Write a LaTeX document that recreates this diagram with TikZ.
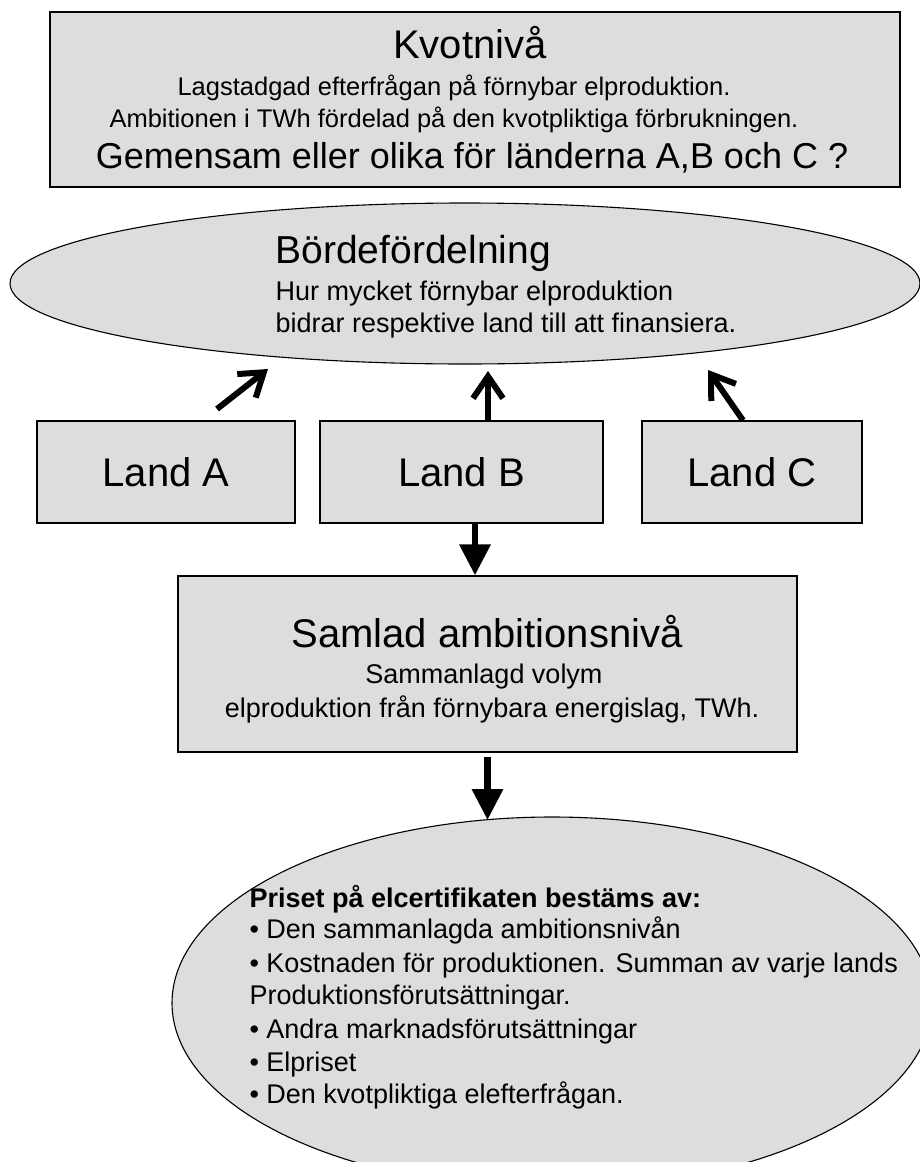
\documentclass[tikz,border=0pt]{standalone}
\usepackage{fontspec}
\setmainfont{Liberation Sans}
\usepackage{tikz}
\usetikzlibrary{shapes.geometric,arrows.meta}
\definecolor{grafyll}{RGB}{221,221,221}
\newcommand{\rubrik}{\fontsize{40}{48}\selectfont}
\newcommand{\brod}{\fontsize{27}{32}\selectfont}

\begin{document}
\begin{tikzpicture}[x=1pt,y=-1pt,
  ruta/.style={draw, line width=1.3pt, fill=grafyll, inner sep=0pt},
  ellips/.style={ellipse, draw, line width=1.1pt, fill=grafyll, inner sep=0pt},
  upp/.style={line width=6pt, -{Straight Barb[length=22pt,width=30pt]}},
  ned/.style={line width=6.5pt, -{Triangle[length=31pt,width=30pt]}}]
\useasboundingbox (0,0) rectangle (919,1162);
% kvotniva
\node[ruta, minimum width=850pt, minimum height=175pt] (kvot) at (475,99.5) {};
\node[anchor=base, font=\rubrik] (kvotrubrik) at (470,58) {Kvotnivå};
\node[anchor=base, font=\fontsize{25.5}{31}\selectfont] (kvotrad1) at (454,95) {Lagstadgad efterfrågan på förnybar elproduktion.};
\node[anchor=base, font=\fontsize{25.5}{31}\selectfont] (kvotrad2) at (454,127) {Ambitionen i TWh fördelad på den kvotpliktiga förbrukningen.};
\node[anchor=base, font=\fontsize{36}{43}\selectfont] (kvotfraga) at (472,168) {Gemensam eller olika för länderna A,B och C ?};
% bordefordelning
\node[ellips, minimum width=910pt, minimum height=161pt] (borde) at (465,283.5) {};
\node[anchor=base west, font=\fontsize{39}{47}\selectfont] (borderubrik) at (272,263) {Bördefördelning};
\node[anchor=base west, font=\brod] (borderad1) at (272,300) {Hur mycket förnybar elproduktion};
\node[anchor=base west, font=\brod] (borderad2) at (272,332) {bidrar respektive land till att finansiera.};
% landerna
\node[ruta, minimum width=258pt, minimum height=102pt, font=\rubrik] (landA) at (166,472) {Land A};
\node[ruta, minimum width=283pt, minimum height=102pt, font=\rubrik] (landB) at (461.5,472) {Land B};
\node[ruta, minimum width=220pt, minimum height=102pt, font=\rubrik] (landC) at (752,472) {Land C};
\coordinate (svansA) at (217,409);
\coordinate (spetsA) at (268,369);
\coordinate (spetsB) at (488,371);
\coordinate (spetsC) at (708,370);
\draw[upp] (svansA) -- (spetsA);
\draw[upp] ([xshift=26.5pt]landB.north) -- (spetsB);
\draw[upp] ([xshift=-9pt]landC.north) -- (spetsC);
% samlad ambitionsniva
\node[ruta, minimum width=619pt, minimum height=176pt] (samlad) at (487.5,664) {};
\node[anchor=base, font=\rubrik] (samladrubrik) at (487,647) {Samlad ambitionsnivå};
\node[anchor=base, font=\brod] (samladrad1) at (484,683) {Sammanlagd volym};
\node[anchor=base, font=\brod] (samladrad2) at (492,717) {elproduktion från förnybara energislag, TWh.};
\draw[ned] ([xshift=13.5pt]landB.south) -- ([xshift=-12.5pt]samlad.north);
% priset
\node[ellips, minimum width=760pt, minimum height=372pt] (priser) at (552,1003) {};
\coordinate (pristopp) at (487.5,820);
\draw[ned, shorten <=4pt] (samlad.south) -- (pristopp);
\foreach [count=\i] \rad/\yy in {{\textbf{Priset på elcertifikaten bestäms av:}}/907,
    {• Den sammanlagda ambitionsnivån}/938,
    {• Kostnaden för produktionen. Summan av varje lands}/972,
    {Produktionsförutsättningar.}/1004,
    {• Andra marknadsförutsättningar}/1038,
    {• Elpriset}/1071,
    {• Den kvotpliktiga elefterfrågan.}/1103}
  \node[anchor=base west, font=\brod] (prisrad\i) at (246,\yy) {\rad};
\end{tikzpicture}
\end{document}
